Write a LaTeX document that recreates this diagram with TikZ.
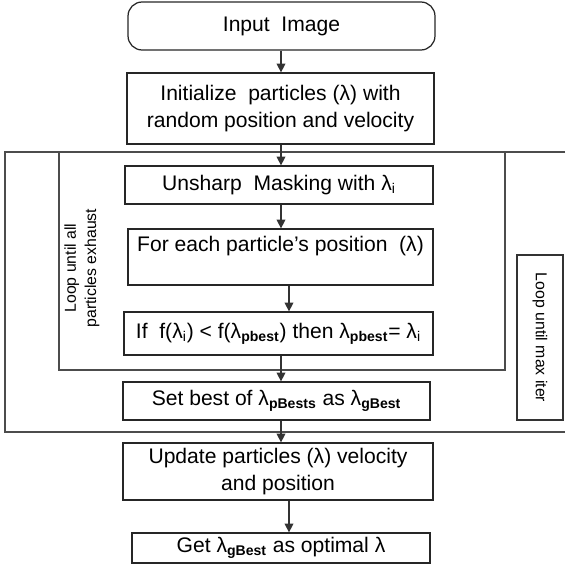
\documentclass[tikz,border=0pt]{standalone}
\usepackage{fontspec}
\setmainfont{Liberation Sans}
\usepackage{tikz}
\usetikzlibrary{arrows.meta,positioning,calc}

\tikzset{
  stagebox/.style={draw=black!85, line width=0.7pt, align=center, inner sep=2pt,
    font=\fontsize{12}{15.5}\selectfont},
  looptext/.style={align=center, font=\fontsize{9}{11.5}\selectfont},
  flow/.style={-{Triangle[width=5pt,length=5pt]}, black!80, line width=0.6pt},
  loopframe/.style={black!70, line width=0.9pt}
}

\begin{document}
\begin{tikzpicture}[x=0.02cm, y=-0.02cm]
  \useasboundingbox (0,0) rectangle (565,574);

  % flow stages
  \node[stagebox, rounded corners=8pt, minimum width=6.14cm, minimum height=0.96cm] (input) at (281.5,26) {Input\ \ Image};
  \node[stagebox, minimum width=6.14cm, minimum height=1.42cm] (init) at (280.5,108.5) {Initialize\ \ particles (λ) with\\random position and velocity};
  \node[stagebox, minimum width=6.16cm, minimum height=0.76cm] (unsharp) at (279,185) {Unsharp\ \ Masking with λ\textsubscript{i}};
  \node[stagebox, minimum width=6.10cm, minimum height=1.12cm] (foreach) at (280.5,257) {For each particle’s position\ \ (λ)\\\mbox{}};
  \node[stagebox, minimum width=6.18cm, minimum height=0.86cm] (ifbest) at (278.5,333.5) {If\ \ f(λ\textsubscript{i}) < f(λ\textsubscript{\textbf{pbest}}) then λ\textsubscript{\textbf{pbest}}= λ\textsubscript{i}};
  \node[stagebox, minimum width=6.14cm, minimum height=0.76cm] (setbest) at (276.5,401) {Set best of λ\textsubscript{\textbf{pBests}} as λ\textsubscript{\textbf{gBest}}};
  \node[stagebox, minimum width=6.20cm, minimum height=1.14cm] (update) at (278,471.5) {Update particles (λ) velocity\\and position};
  \node[stagebox, minimum width=5.96cm, minimum height=0.60cm] (getbest) at (281,548) {Get λ\textsubscript{\textbf{gBest}} as optimal λ};

  % loop frames
  \draw[loopframe] (565,152) -- (5,152) -- (5,432) -- (565,432);
  \draw[loopframe] (59,152) rectangle (505,370);
  \node[looptext, rotate=90] (particleloop) at (82,268) {Loop until all\\particles exhaust};
  \node[draw=black!80, line width=0.6pt, looptext, rotate=-90, minimum width=3.3cm, minimum height=0.92cm] (iterloop) at (540,337.5) {Loop until max iter};

  % connectors
  \draw[flow] (input.south -| 281,0) -- (init.north -| 281,0);
  \draw[flow] (init.south -| 281,0) -- (unsharp.north -| 281,0);
  \draw[flow] (unsharp.south -| 281,0) -- (foreach.north -| 281,0);
  \draw[flow] (foreach.south -| 289,0) -- (ifbest.north -| 289,0);
  \draw[flow] (ifbest.south -| 281,0) -- (setbest.north -| 281,0);
  \draw[flow] (setbest.south -| 281,0) -- (update.north -| 281,0);
  \draw[flow] (update.south -| 289,0) -- (getbest.north -| 289,0);
\end{tikzpicture}
\end{document}
